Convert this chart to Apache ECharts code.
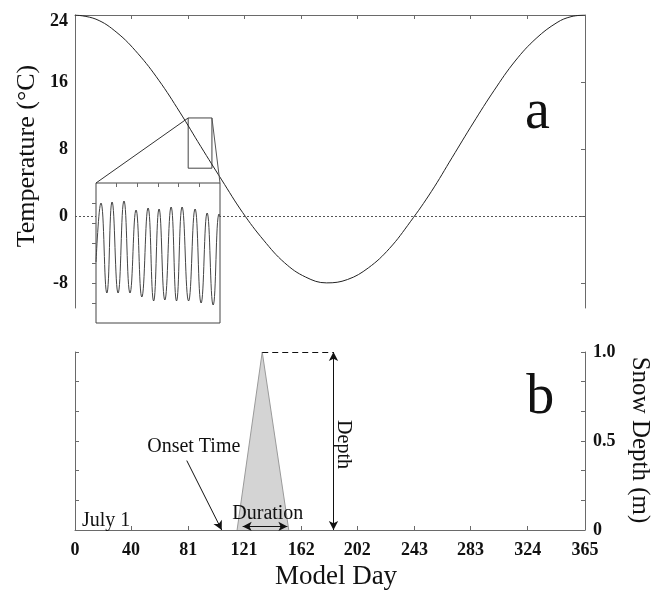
<!DOCTYPE html>
<html>
<head>
<meta charset="utf-8">
<script src="https://cdn.jsdelivr.net/npm/echarts@6/dist/echarts.min.js"></script>
<style>
html,body{margin:0;padding:0;background:#fff;}
#chart{width:654px;height:591px;}
</style>
</head>
<body>
<div id="chart"></div>
<script>
// ---- Data ----
const dayTicks = [0, 40, 81, 121, 162, 202, 243, 283, 324, 365];
const tempTicks = [-8, 0, 8, 16, 24];
const depthTicks = [0, 0.1667, 0.3333, 0.5, 0.6667, 0.8333, 1];
const depthLabels = [0, 0.5, 1];

// Panel a: seasonal air temperature
const days  = [0, 15, 30, 45, 60, 75, 90, 105, 120, 135, 150, 165, 180, 195, 210, 225, 240, 255, 270, 285, 300, 315, 330, 345, 355, 365];
const temps = [24.0, 23.5, 21.9, 19.4, 16.2, 12.4, 8.3, 4.3, 0.4, -2.9, -5.6, -7.3, -8.0, -7.6, -6.2, -3.9, -0.7, 2.9, 7.0, 11.1, 15.0, 18.5, 21.2, 23.1, 23.8, 24.0];

// Zoom box on panel a (days, temperatures)
const zoomDays  = [81, 98];
const zoomTemps = [5.7, 11.7];

// Inset: diurnal oscillation (time in days, temperature)
const insetTimes = [0, 0.42, 0.92, 1.36, 1.87, 2.37, 2.88, 3.39, 3.88, 4.41, 4.88, 5.34, 5.83, 6.36, 6.82, 7.29, 7.84, 8.39, 8.90, 9.41, 9.92, 10.42, 10.5];
const insetTemps = [8.05, 11.0, 6.5, 11.05, 6.5, 11.1, 6.5, 10.65, 6.3, 10.75, 6.1, 10.7, 6.15, 10.8, 6.1, 10.8, 6.1, 10.7, 6.0, 10.5, 5.9, 10.45, 10.3];
const insetXTicks = [1.75, 3.5, 5.25, 7, 8.75];
const insetYTicks = [6, 7, 8, 9, 10, 11];

// Panel b: snow depth triangle
const snowDays   = [116, 134, 153];
const snowDepths = [0, 1.0, 0];
const onsetArrow = {from: [80, 0.39], to: [105, 0]};
const durationSpan = [120, 152];
const depthArrowDay = 185;

const FONT = 'Liberation Serif';
const AX = '#6a6a6a';

const chart = echarts.init(document.getElementById('chart'), null, {renderer: 'canvas'});

const tickStyle = {show: true, inside: true, length: 4, lineStyle: {color: AX, width: 1}};
const lineStyleAx = {show: true, onZero: false, lineStyle: {color: AX, width: 1}};
const labelFont = {fontFamily: FONT, fontSize: 18, fontWeight: 'bold', color: '#111'};

chart.setOption({
  animation: false,
  backgroundColor: '#fff',
  grid: [
    {left: 75, top: 15, width: 510, height: 293},
    {left: 75, top: 352, width: 510, height: 178},
    {left: 96, top: 183, width: 124, height: 140, show: true, backgroundColor: '#fff', borderColor: '#444', borderWidth: 1, z: 10}
  ],
  xAxis: [
    {type: 'value', gridIndex: 0, position: 'top', min: 0, max: 365,
     axisLine: lineStyleAx, axisTick: Object.assign({customValues: dayTicks}, tickStyle),
     axisLabel: {show: false}, splitLine: {show: false}},
    {type: 'value', gridIndex: 1, position: 'bottom', min: 0, max: 365,
     axisLine: lineStyleAx, axisTick: Object.assign({customValues: dayTicks}, tickStyle),
     axisLabel: Object.assign({customValues: dayTicks, margin: 11, formatter: v => String(v)}, labelFont),
     splitLine: {show: false}},
    {type: 'value', gridIndex: 2, position: 'top', min: 0, max: 10.5, z: 11,
     axisLine: {show: false}, axisTick: Object.assign({customValues: insetXTicks}, tickStyle),
     axisLabel: {show: false}, splitLine: {show: false}}
  ],
  yAxis: [
    {type: 'value', gridIndex: 0, position: 'left', min: -11, max: 24,
     axisLine: lineStyleAx, axisTick: {show: false},
     axisLabel: Object.assign({customValues: tempTicks, margin: 7,
       formatter: v => (v === 24 ? '{top|24}' : String(v)),
       rich: {top: {fontFamily: FONT, fontSize: 18, fontWeight: 'bold', color: '#111', padding: [12, 0, 0, 0]}}}, labelFont),
     splitLine: {show: false}},
    {type: 'value', gridIndex: 0, position: 'right', min: -11, max: 24,
     axisLine: lineStyleAx, axisTick: Object.assign({customValues: tempTicks}, tickStyle),
     axisLabel: {show: false}, splitLine: {show: false}},
    {type: 'value', gridIndex: 1, position: 'left', min: 0, max: 1,
     axisLine: lineStyleAx, axisTick: Object.assign({customValues: depthTicks}, tickStyle),
     axisLabel: {show: false}, splitLine: {show: false}},
    {type: 'value', gridIndex: 1, position: 'right', min: 0, max: 1,
     axisLine: lineStyleAx, axisTick: Object.assign({customValues: depthTicks}, tickStyle),
     axisLabel: Object.assign({customValues: depthLabels, margin: 8, padding: [7, 0, 0, 0],
       formatter: v => (v === 0 ? '0' : v.toFixed(1))}, labelFont),
     splitLine: {show: false}},
    {type: 'value', gridIndex: 2, position: 'right', min: 5, max: 12, z: 11,
     axisLine: {show: false}, axisTick: Object.assign({customValues: insetYTicks}, tickStyle),
     axisLabel: {show: false}, splitLine: {show: false}}
  ],
  series: [
    {
      type: 'line', xAxisIndex: 0, yAxisIndex: 0, z: 2,
      data: days.map((d, i) => [d, temps[i]]),
      smooth: 0.4, showSymbol: false, symbol: 'none',
      lineStyle: {color: '#222', width: 1},
      markLine: {
        silent: true, symbol: 'none', label: {show: false},
        lineStyle: {color: '#555', width: 1, type: [2, 2]},
        data: [{yAxis: 0}]
      },
      markArea: {
        silent: true, label: {show: false},
        itemStyle: {color: 'rgba(0,0,0,0)', borderColor: '#444', borderWidth: 1},
        data: [[{coord: [zoomDays[0], zoomTemps[1]]}, {coord: [zoomDays[1], zoomTemps[0]]}]]
      }
    },
    {
      type: 'line', xAxisIndex: 2, yAxisIndex: 4, z: 12,
      data: insetTimes.map((t, i) => [t, insetTemps[i]]),
      smooth: 0.5, showSymbol: false, symbol: 'none',
      lineStyle: {color: '#444', width: 1}
    },
    {
      type: 'line', xAxisIndex: 1, yAxisIndex: 2, z: 2,
      data: snowDays.map((d, i) => [d, snowDepths[i]]),
      showSymbol: false, symbol: 'none',
      lineStyle: {color: '#9a9a9a', width: 1},
      areaStyle: {color: '#d4d4d4', opacity: 1},
      markLine: {
        silent: true, label: {show: false}, symbol: ['arrow', 'arrow'], symbolSize: [7, 9],
        lineStyle: {color: '#111', width: 1, type: 'solid'},
        data: [
          [{coord: [snowDays[1], 1], symbol: 'none', lineStyle: {type: [6, 4], color: '#111'}},
           {coord: [depthArrowDay, 1], symbol: 'none'}],
          [{coord: [depthArrowDay, 0]}, {coord: [depthArrowDay, 1]}],
          [{coord: [durationSpan[0], 0.02]}, {coord: [durationSpan[1], 0.02]}],
          [{coord: onsetArrow.from, symbol: 'none'}, {coord: onsetArrow.to}]
        ]
      }
    }
  ]
});

// ---- Annotations positioned through the axes ----
const pA = (x, y) => chart.convertToPixel({xAxisIndex: 0, yAxisIndex: 0}, [x, y]);
const pB = (x, y) => chart.convertToPixel({xAxisIndex: 1, yAxisIndex: 2}, [x, y]);
const pI = (x, y) => chart.convertToPixel({xAxisIndex: 2, yAxisIndex: 4}, [x, y]);

const z1 = pA(zoomDays[0], zoomTemps[1]);
const z2 = pA(zoomDays[1], zoomTemps[1]);
const i1 = pI(0, 12);
const i2 = pI(10.5, 12);

function txt(pos, text, size, opts) {
  return Object.assign({
    type: 'text', x: pos[0], y: pos[1], z: 50,
    style: {text: text, font: size + 'px "' + FONT + '"', fill: '#111',
            align: (opts && opts.align) || 'center', verticalAlign: 'middle'}
  }, opts && opts.rotation !== undefined ? {rotation: opts.rotation} : {});
}

chart.setOption({
  graphic: [
    {type: 'line', z: 40, shape: {x1: z1[0], y1: z1[1], x2: i1[0], y2: i1[1]}, style: {stroke: '#333', lineWidth: 1}},
    {type: 'line', z: 40, shape: {x1: z2[0], y1: z2[1], x2: i2[0], y2: i2[1]}, style: {stroke: '#555', lineWidth: 1}},
    txt(pA(331, 12.3), 'a', 56),
    txt(pB(333, 0.74), 'b', 56),
    txt(pB(5, 0.05), 'July 1', 20, {align: 'left'}),
    txt(pB(85, 0.47), 'Onset Time', 20),
    txt(pB(138, 0.09), 'Duration', 20),
    txt(pB(192, 0.48), 'Depth', 20, {rotation: -Math.PI / 2}),
    {type: 'text', x: 27, y: 156, rotation: Math.PI / 2, z: 50,
     style: {text: 'Temperature (°C)', font: '26px "' + FONT + '"', fill: '#111', align: 'center', verticalAlign: 'middle'}},
    {type: 'text', x: 640, y: 440, rotation: -Math.PI / 2, z: 50,
     style: {text: 'Snow Depth (m)', font: '25px "' + FONT + '"', fill: '#111', align: 'center', verticalAlign: 'middle'}},
    {type: 'text', x: 336, y: 577, z: 50,
     style: {text: 'Model Day', font: '27px "' + FONT + '"', fill: '#111', align: 'center', verticalAlign: 'middle'}}
  ]
});
</script>
</body>
</html>
